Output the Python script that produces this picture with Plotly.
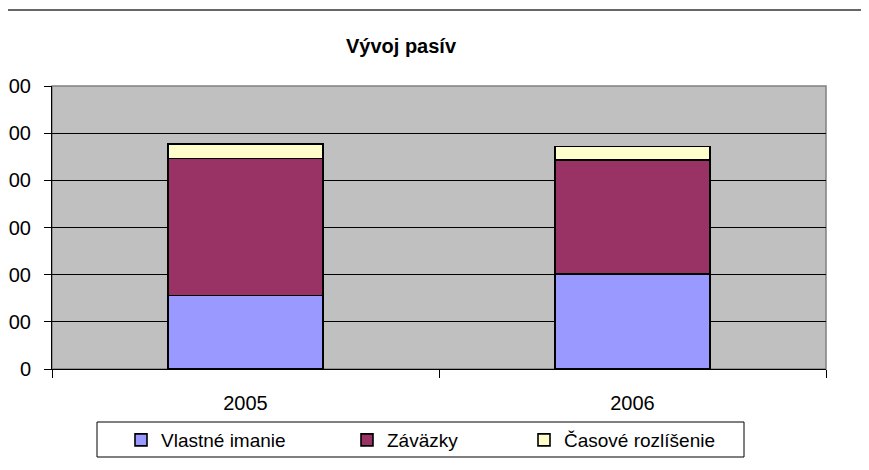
import plotly.graph_objects as go

years = ["2005", "2006"]
vlastne_imanie = [1.56, 2.01]
zavazky = [2.90, 2.42]
casove_rozlisenie = [0.31, 0.29]
y_tick_vals = [0, 1, 2, 3, 4, 5, 6]
y_tick_text = ["0", "00", "00", "00", "00", "00", "00"]

series = [
    ("Vlastné imanie", vlastne_imanie, "#9999FF"),
    ("Záväzky", zavazky, "#993366"),
    ("Časové rozlíšenie", casove_rozlisenie, "#FFFFCC"),
]

# page body margin offsets the figure by 8px
OFF = 8
W, H = 869 - OFF, 470 - OFF
# plot area in screen coords: x 52..826, y 86..369
PX0, PX1, PY0, PY1 = 52 - OFF, 826 - OFF, 86 - OFF, 369 - OFF
L, R, T, B = PX0, W - PX1, PY0, H - PY1
ph = PY1 - PY0
pw = PX1 - PX0


def px_x(sx):
    return (sx - OFF - PX0) / pw


def px_y(sy):
    return (PY1 - (sy - OFF)) / ph


legend_names = ["legend", "legend2", "legend3"]
legend_left_px = [121, 347, 524]

fig = go.Figure()
for (name, vals, col), lg in zip(series, legend_names):
    fig.add_trace(go.Bar(
        x=years, y=vals, name=name, legend=lg,
        marker=dict(color=col, line=dict(color="black", width=1.6)),
    ))

legend_common = dict(orientation="h", xanchor="left", yanchor="middle",
                     y=px_y(440), borderwidth=0,
                     bgcolor="rgba(0,0,0,0)", font=dict(size=19),
                     itemwidth=30)

fig.update_layout(
    width=W, height=H,
    barmode="stack", bargap=0.6,
    paper_bgcolor="white", plot_bgcolor="#C0C0C0",
    margin=dict(l=L, r=R, t=T, b=B, pad=0, autoexpand=False),
    font=dict(family="Liberation Sans, Arial, sans-serif", color="black"),
    title=dict(text="<b>Vývoj pasív</b>", x=(401 - OFF) / W, xanchor="center",
               y=1 - (46 - OFF) / H, yanchor="middle", font=dict(size=20)),
    showlegend=True,
    legend=dict(x=px_x(legend_left_px[0]), **legend_common),
    legend2=dict(x=px_x(legend_left_px[1]), **legend_common),
    legend3=dict(x=px_x(legend_left_px[2]), **legend_common),
    xaxis=dict(showline=True, linecolor="black", linewidth=1,
               ticks="outside", tickson="boundaries", ticklen=8,
               tickcolor="black", tickfont=dict(size=20),
               ticklabelstandoff=16, automargin=False,
               showgrid=False),
    yaxis=dict(range=[0, 6], tickvals=y_tick_vals, ticktext=y_tick_text,
               showline=True, linecolor="black", linewidth=1,
               ticks="outside", ticklen=7, tickcolor="black",
               tickfont=dict(size=20), ticklabelstandoff=9,
               automargin=False, showgrid=True,
               gridcolor="black", gridwidth=1, zeroline=False),
    shapes=[
        dict(type="rect", xref="paper", yref="paper", x0=0, x1=1, y0=0, y1=1,
             line=dict(color="#808080", width=1.5), layer="below"),
        dict(type="line", xref="paper", yref="paper",
             x0=px_x(4), x1=px_x(869),
             y0=px_y(10), y1=px_y(10),
             line=dict(color="#333333", width=1.5)),
        dict(type="rect", xref="paper", yref="paper",
             x0=px_x(97), x1=px_x(744),
             y0=px_y(457), y1=px_y(422),
             line=dict(color="black", width=1), fillcolor="white",
             layer="below"),
    ],
)

fig.write_html("out.html")
